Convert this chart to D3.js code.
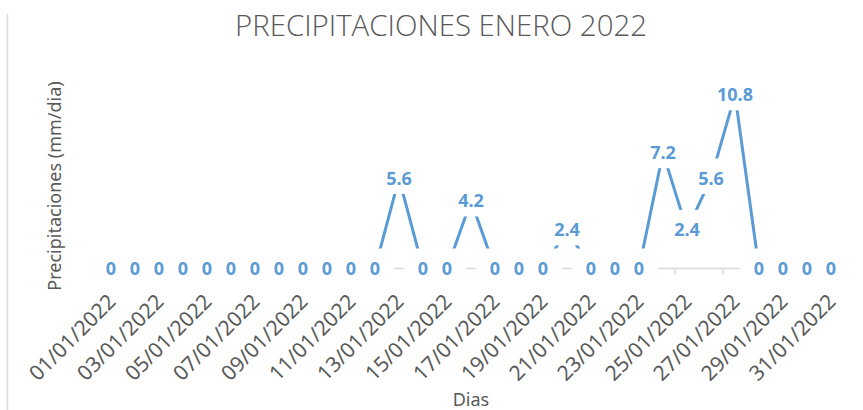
<!DOCTYPE html>
<html><head><meta charset="utf-8">
<script src="https://cdn.jsdelivr.net/npm/d3@7"></script>
<style>html,body{margin:0;padding:0;background:#fff;} svg{display:block}</style>
</head><body><svg id="c" width="863" height="410"></svg>
<script>
const dias = ["01/01/2022","02/01/2022","03/01/2022","04/01/2022","05/01/2022","06/01/2022","07/01/2022","08/01/2022","09/01/2022","10/01/2022","11/01/2022","12/01/2022","13/01/2022","14/01/2022","15/01/2022","16/01/2022","17/01/2022","18/01/2022","19/01/2022","20/01/2022","21/01/2022","22/01/2022","23/01/2022","24/01/2022","25/01/2022","26/01/2022","27/01/2022","28/01/2022","29/01/2022","30/01/2022","31/01/2022"];
const precipitacion = [0,0,0,0,0,0,0,0,0,0,0,0,5.6,0,0,4.2,0,0,0,2.4,0,0,0,7.2,2.4,5.6,10.8,0,0,0,0];
const etiquetasEje = ["01/01/2022","03/01/2022","05/01/2022","07/01/2022","09/01/2022","11/01/2022","13/01/2022","15/01/2022","17/01/2022","19/01/2022","21/01/2022","23/01/2022","25/01/2022","27/01/2022","29/01/2022","31/01/2022"];
const titulo = "PRECIPITACIONES ENERO 2022";
const tituloY = "Precipitaciones (mm/dia)";
const tituloX = "Dias";

const W = 863, H = 410;
const svg = d3.select("#c");
const azul = "#5b9bd5", gris = "#595959", grisClaro = "#d9d9d9";
const fuente = "'Noto Sans', 'Open Sans', sans-serif";

const x = d3.scaleBand().domain(dias).range([99, 843]).padding(0);
const y = d3.scaleLinear().domain([0, 12]).range([268.5, 75.5]);
const cx = d => x(d) + x.bandwidth() / 2;
const datos = dias.map((d, i) => ({ dia: d, v: precipitacion[i] }));

svg.append("rect").attr("width", W).attr("height", H).attr("fill", "#fff");
svg.append("line").attr("x1", 7.5).attr("x2", 7.5).attr("y1", 14).attr("y2", H)
  .attr("stroke", grisClaro).attr("stroke-width", 1.5);

// Title
svg.append("text").attr("x", 441).attr("y", 36).attr("text-anchor", "middle")
  .attr("font-family", "'Open Sans', 'Noto Sans', sans-serif").attr("font-weight", 300)
  .attr("font-size", 30).attr("fill", gris)
  .attr("textLength", 412).attr("lengthAdjust", "spacingAndGlyphs").text(titulo);

// X axis
const ax = svg.append("g").attr("transform", "translate(0,268)")
  .call(d3.axisBottom(x).tickValues(etiquetasEje).tickSize(0).tickSizeOuter(0));
ax.select(".domain").attr("stroke", grisClaro).attr("stroke-width", 1.5);
ax.selectAll(".tick text")
  .attr("x", 0).attr("y", 0).attr("dy", null)
  .attr("text-anchor", "end")
  .attr("transform", "translate(6,35) rotate(-45)")
  .attr("font-family", fuente).attr("font-size", 21).attr("fill", gris);
ax.selectAll(".limite").data(etiquetasEje).join("line").attr("class", "limite")
  .attr("x1", d => x(d)).attr("x2", d => x(d)).attr("y1", 0.5).attr("y2", 6.5)
  .attr("stroke", grisClaro).attr("stroke-width", 1.5);

// Axis titles
svg.append("text").attr("transform", "translate(60.5,186) rotate(-90)")
  .attr("text-anchor", "middle").attr("font-family", fuente).attr("font-size", 18)
  .attr("fill", gris).text(tituloY);
svg.append("text").attr("x", 471).attr("y", 406).attr("text-anchor", "middle")
  .attr("font-family", fuente).attr("font-size", 18).attr("fill", gris).text(tituloX);

// Line
const linea = d3.line().x(d => cx(d.dia)).y(d => y(d.v));
svg.append("path").datum(datos).attr("d", linea).attr("fill", "none")
  .attr("stroke", azul).attr("stroke-width", 3)
  .attr("stroke-linejoin", "round").attr("stroke-linecap", "round");

// Data labels with white boxes
const capaCajas = svg.append("g");
const capaTextos = svg.append("g");
const textos = capaTextos.selectAll("text").data(datos).join("text")
  .attr("x", d => cx(d.dia)).attr("y", d => y(d.v) + 6.5)
  .attr("text-anchor", "middle").attr("font-family", fuente)
  .attr("font-weight", 700).attr("font-size", 18).attr("fill", azul)
  .text(d => String(d.v));
textos.each(function (d) {
  const w = this.getComputedTextLength();
  capaCajas.append("rect")
    .attr("x", cx(d.dia) - w / 2 - 14).attr("width", w + 28)
    .attr("y", y(d.v) - 20).attr("height", 35.5)
    .attr("fill", "#fff");
});
</script>
</body></html>
